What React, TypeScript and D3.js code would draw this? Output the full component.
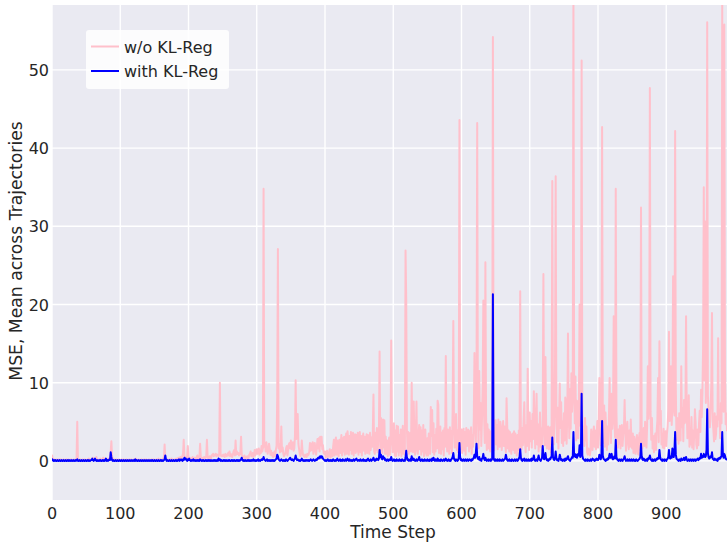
import React from "react";
import * as d3 from "d3";

// ---- data: MSE per time step (w/o KL-Reg) ----
const pink000 = [
  0.8,0.3,0.2,0.1,0.2,0.1,0.1,0.2,0.1,0.1, 0.2,0.1,0.1,0.2,0.1,0.1,0.1,0.2,0.1,0.1,
  0.1,0.2,0.1,0.1,0.2,0.1,0.1,0.1,0.2,0.1, 0.1,0.1,0.2,0.1,0.1,0.2,0.3,5.0,0.2,0.1,
  0.1,0.2,0.1,0.1,0.1,0.2,0.1,0.1,0.2,0.1, 0.1,0.1,0.2,0.1,0.3,0.1,0.1,0.2,0.1,0.1,
  0.4,0.2,0.1,0.1,0.3,0.5,0.2,0.1,0.1,0.2, 0.1,0.3,0.1,0.1,0.2,0.4,0.2,0.1,0.3,0.2,
  0.1,0.2,0.3,0.1,0.2,0.4,1.2,2.5,0.6,0.2, 0.1,0.2,0.1,0.1,0.2,0.1,0.1,0.1,0.2,0.1,
  0.1,0.1,0.2,0.1,0.1,0.2,0.1,0.1,0.1,0.2, 0.1,0.1,0.1,0.2,0.1,0.1,0.2,0.1,0.1,0.1,
  0.2,0.1,0.1,0.3,0.1,0.1,0.1,0.2,0.1,0.1, 0.1,0.2,0.1,0.1,0.1,0.2,0.1,0.1,0.2,0.1,
  0.1,0.1,0.2,0.1,0.1,0.1,0.2,0.1,0.1,0.2, 0.1,0.1,0.1,0.2,0.1,0.1,0.3,0.1,0.1,0.2,
  0.1,0.1,0.2,0.3,0.5,2.1,0.4,0.2,0.1,0.2, 0.1,0.1,0.2,0.1,0.1,0.3,0.1,0.2,0.1,0.1,
  0.2,0.1,0.3,0.1,0.2,0.4,0.2,0.3,0.5,0.3, 0.4,0.6,0.9,2.7,0.6,0.4,0.5,0.3,0.6,1.9,
];
const pink200 = [
  0.5,0.3,0.4,0.2,0.3,0.2,0.5,0.3,0.2,0.4, 0.3,0.2,0.5,0.7,0.3,0.2,0.4,2.2,0.5,0.3,
  0.2,0.4,0.3,0.5,0.3,0.4,0.6,2.7,0.5,0.3, 0.4,0.6,0.5,0.3,0.7,0.8,0.9,0.6,0.8,0.7,
  0.9,0.6,0.8,0.7,0.6,0.9,10.0,0.8,0.6,0.7, 0.6,0.8,0.7,0.5,0.9,0.7,0.6,0.8,1.0,0.7,
  1.2,0.6,0.9,0.7,0.5,0.8,1.2,1.4,0.7,2.6, 0.8,1.2,0.9,1.0,0.7,0.8,1.1,3.1,0.8,0.6,
  0.5,0.4,0.7,0.3,0.5,0.4,0.6,0.3,0.4,0.8, 0.9,1.2,0.6,0.7,1.0,0.5,0.8,1.4,0.7,1.3,
  1.5,0.9,1.1,1.6,0.8,1.3,1.0,1.9,1.2,1.6, 34.8,1.8,2.3,1.2,2.4,1.6,0.9,1.4,2.2,1.5,
  0.8,1.3,0.7,1.0,0.5,0.8,1.2,0.6,1.4,1.9, 8.2,27.1,1.6,2.2,1.1,1.8,4.4,1.2,1.7,0.9,
  0.6,0.8,1.0,1.6,1.9,0.7,1.4,2.1,2.3,1.6, 2.6,1.5,1.8,2.4,1.3,1.6,3.2,10.3,2.8,4.2,
  6.0,2.2,1.5,0.9,0.6,1.0,2.6,1.3,0.7,0.6, 0.5,0.8,0.6,0.5,0.9,0.7,0.8,1.2,2.3,1.3,
  2.2,1.4,2.4,0.9,1.6,2.3,1.3,0.8,1.8,2.8, 1.6,2.9,1.2,3.1,2.0,3.1,1.5,2.0,1.0,0.9,
];
const pink400 = [
  1.2,0.4,0.9,1.3,0.5,0.6,1.1,1.5,0.4,0.8, 1.4,0.6,1.9,2.7,0.7,2.4,3.0,0.8,2.6,1.1,
  0.6,2.7,1.0,2.2,3.3,0.7,2.9,1.2,3.1,0.8, 2.4,3.5,0.9,3.8,2.7,0.8,3.2,1.4,3.7,0.9,
  2.8,3.6,0.7,2.5,3.4,1.0,3.3,1.2,3.6,0.8, 2.6,3.7,1.1,3.2,0.7,2.9,3.5,1.3,3.1,0.9,
  2.7,3.4,1.0,3.3,1.5,0.9,3.6,1.4,3.0,1.8, 3.5,8.5,1.2,0.9,3.6,1.4,4.2,1.1,2.5,4.0,
  14.0,1.4,5.5,4.1,1.0,5.3,1.7,5.2,0.9,3.1, 0.9,2.6,0.6,2.2,3.0,0.8,2.5,15.4,4.8,1.1,
  3.6,4.8,0.7,3.9,0.6,4.5,1.2,4.4,0.7,3.3, 1.1,4.0,0.6,2.8,4.5,0.9,3.2,0.8,26.9,20.6,
  4.1,1.3,3.7,0.9,2.8,3.6,1.2,10.0,3.4,1.1, 7.6,3.0,0.8,2.6,7.6,1.4,0.9,3.2,4.6,1.5,
  4.3,0.8,3.9,1.2,4.6,0.6,3.0,4.0,1.0,0.7, 2.9,0.7,3.5,1.4,0.9,6.9,3.2,6.5,1.1,4.8,
  0.8,3.3,1.2,4.1,1.6,7.7,7.2,1.0,2.3,4.4, 0.9,3.6,1.5,3.9,0.7,4.2,1.8,13.4,3.6,1.2,
  4.0,3.1,0.9,4.3,1.6,3.8,1.0,6.5,17.9,4.4, 1.7,3.5,6.0,1.4,3.9,1.1,4.6,43.6,3.8,1.5,
];
const pink600 = [
  4.0,1.0,3.4,4.1,1.3,3.7,0.8,4.2,1.9,3.5, 4.0,1.2,3.8,1.6,4.3,0.9,3.3,1.8,5.4,13.8,
  4.5,2.2,8.8,43.2,6.3,1.6,11.5,4.0,7.4,1.9, 5.2,9.4,20.5,6.1,2.3,25.4,5.8,1.4,4.7,1.6,
  4.0,2.1,1.2,3.8,1.8,4.5,54.2,3.7,1.4,5.0, 5.2,2.1,4.6,1.5,5.3,2.4,1.8,5.0,4.1,1.4,
  3.6,5.1,1.9,4.4,2.2,1.1,8.0,4.5,1.6,3.9, 1.2,3.7,1.5,0.9,3.4,3.5,1.4,3.8,1.0,3.5,
  1.8,0.7,3.3,1.4,3.9,0.9,21.7,3.6,1.5,4.2, 2.0,5.3,7.5,2.4,1.1,4.6,1.9,11.8,3.2,1.4,
  6.2,2.5,5.1,1.7,6.0,2.8,8.9,4.4,1.6,5.2, 8.6,2.1,4.7,1.2,3.5,6.2,1.8,4.1,1.3,5.6,
  23.9,4.2,2.0,13.3,4.8,1.6,3.9,4.4,1.5,3.7, 4.3,1.1,3.8,35.8,5.4,2.1,4.6,12.4,36.4,5.8,
  2.4,6.8,1.6,5.9,9.9,4.2,7.5,2.3,5.0,1.9, 6.1,2.6,8.1,7.4,2.2,5.8,16.3,6.7,2.9,9.2,
  4.1,11.2,6.3,8.5,58.5,9.6,4.8,10.8,2.6,7.7, 6.9,2.9,7.2,20.0,4.5,8.3,51.2,6.4,2.7,4.4,
  1.9,5.5,2.6,4.4,1.1,0.8,1.6,0.9,0.7,1.3, 4.0,2.1,1.4,3.7,4.4,1.8,3.9,1.5,3.4,5.1,
];
const pink800 = [
  1.7,4.6,10.6,5.2,2.0,6.8,42.7,6.1,2.3,7.1, 1.8,6.2,3.6,1.4,4.4,2.1,5.6,10.6,4.9,2.3,
  8.6,4.1,6.5,18.5,5.3,3.0,34.8,6.2,2.5,1.7, 4.0,2.2,4.5,1.6,3.8,4.6,1.9,3.4,4.2,7.8,
  3.6,1.3,4.1,5.0,2.3,1.5,3.9,1.8,5.3,2.4, 1.6,3.5,1.0,3.1,1.4,0.9,2.7,3.3,1.2,0.8,
  2.9,3.6,1.4,32.4,3.8,1.6,3.5,4.2,1.9,5.0, 2.4,1.7,4.6,12.1,5.4,8.9,47.7,6.3,2.7,5.5,
  1.6,3.2,1.1,2.8,3.5,1.4,3.9,5.2,10.6,2.4, 15.3,4.7,6.4,2.1,3.5,1.7,4.1,1.6,3.3,3.8,
  1.9,3.5,4.4,6.6,16.5,5.1,8.2,12.1,4.6,7.3, 23.6,6.9,5.8,42.2,9.3,2.7,5.5,4.4,2.2,6.1,
  5.0,2.6,12.1,4.3,6.8,2.5,7.8,4.8,5.2,18.5, 6.3,2.9,3.5,8.4,1.8,4.2,2.1,5.6,1.7,3.9,
  1.5,3.4,6.6,4.9,2.1,1.6,4.0,2.0,4.8,6.4, 3.7,9.1,5.6,8.7,14.6,35.0,10.3,30.6,7.4,12.8,
  56.1,8.4,6.2,5.1,4.3,6.9,9.7,18.9,5.2,4.0, 2.5,6.1,2.8,3.5,5.7,4.4,15.7,5.3,6.6,2.9,
  7.4,4.8,58.5,9.2,6.3,55.8,12.0,4.7,6.1,3.8,
];

// ---- data: MSE per time step (with KL-Reg) ----
const blue000 = [
  0.3,0.1,0.0,0.1,0.0,0.1,0.0,0.0,0.1,0.0, 0.0,0.1,0.0,0.0,0.1,0.0,0.0,0.1,0.0,0.0,
  0.1,0.0,0.0,0.1,0.0,0.1,0.0,0.0,0.1,0.0, 0.0,0.1,0.0,0.0,0.1,0.0,0.1,0.2,0.0,0.0,
  0.1,0.0,0.0,0.1,0.0,0.0,0.1,0.0,0.0,0.1, 0.0,0.0,0.1,0.0,0.1,0.0,0.0,0.1,0.1,0.3,
  0.1,0.0,0.1,0.3,0.1,0.0,0.1,0.0,0.0,0.1, 0.0,0.1,0.0,0.0,0.1,0.0,0.1,0.0,0.1,0.3,
  0.0,0.1,0.0,0.1,0.2,0.1,1.1,0.5,0.1,0.0, 0.1,0.0,0.0,0.1,0.0,0.0,0.1,0.0,0.0,0.1,
  0.0,0.0,0.1,0.0,0.0,0.1,0.0,0.0,0.1,0.0, 0.0,0.1,0.0,0.0,0.1,0.0,0.0,0.1,0.0,0.0,
  0.1,0.0,0.2,0.0,0.1,0.0,0.0,0.1,0.0,0.0, 0.1,0.0,0.0,0.1,0.0,0.0,0.1,0.0,0.0,0.1,
  0.0,0.0,0.1,0.0,0.0,0.1,0.0,0.1,0.0,0.0, 0.1,0.0,0.0,0.1,0.0,0.0,0.1,0.0,0.0,0.1,
  0.0,0.1,0.0,0.0,0.1,0.2,0.7,0.2,0.0,0.1, 0.0,0.0,0.1,0.0,0.0,0.1,0.0,0.0,0.1,0.0,
  0.0,0.1,0.0,0.1,0.0,0.1,0.2,0.0,0.1,0.2, 0.1,0.0,0.2,0.1,0.4,0.2,0.3,0.1,0.0,0.2,
];
const blue200 = [
  0.1,0.3,0.1,0.0,0.1,0.0,0.1,0.2,0.0,0.1, 0.0,0.1,0.0,0.1,0.0,0.1,0.0,0.2,0.1,0.0,
  0.1,0.0,0.1,0.0,0.0,0.1,0.0,0.1,0.0,0.1, 0.0,0.1,0.0,0.1,0.0,0.0,0.1,0.0,0.1,0.0,
  0.1,0.0,0.1,0.0,0.3,0.1,0.2,0.0,0.1,0.0, 0.0,0.1,0.0,0.1,0.0,0.1,0.0,0.0,0.1,0.0,
  0.1,0.0,0.0,0.1,0.0,0.1,0.0,0.1,0.0,0.0, 0.1,0.0,0.1,0.0,0.1,0.0,0.1,0.2,0.4,0.1,
  0.0,0.1,0.0,0.1,0.0,0.0,0.1,0.0,0.1,0.0, 0.1,0.0,0.1,0.0,0.1,0.2,0.0,0.1,0.0,0.1,
  0.0,0.1,0.2,0.0,0.1,0.0,0.1,0.2,0.1,0.2, 0.5,0.2,0.1,0.0,0.1,0.2,0.0,0.1,0.0,0.1,
  0.0,0.1,0.0,0.1,0.0,0.1,0.0,0.1,0.2,0.3, 0.8,0.6,0.2,0.1,0.0,0.1,0.2,0.1,0.0,0.1,
  0.0,0.1,0.0,0.2,0.1,0.0,0.1,0.2,0.3,0.4, 0.2,0.1,0.2,0.1,0.0,0.2,0.3,0.7,0.3,0.1,
  0.2,0.1,0.0,0.1,0.0,0.1,0.3,0.1,0.0,0.1, 0.0,0.1,0.0,0.1,0.1,0.0,0.1,0.0,0.1,0.2,
  0.1,0.0,0.1,0.2,0.1,0.0,0.1,0.2,0.1,0.3, 0.4,0.3,0.5,0.6,0.4,0.6,0.5,0.3,0.2,0.1,
];
const blue400 = [
  0.0,0.1,0.0,0.1,0.2,0.0,0.1,0.0,0.1,0.0, 0.1,0.0,0.2,0.1,0.0,0.1,0.0,0.1,0.3,0.1,
  0.0,0.1,0.2,0.0,0.1,0.0,0.2,0.1,0.0,0.1, 0.2,0.0,0.1,0.3,0.1,0.0,0.2,0.1,0.0,0.1,
  0.0,0.1,0.2,0.0,0.1,0.2,0.3,0.1,0.0,0.1, 0.1,0.0,0.2,0.1,0.0,0.1,0.2,0.0,0.1,0.0,
  0.1,0.0,0.2,0.3,0.1,0.0,0.1,0.2,0.0,0.1, 0.2,0.4,0.1,0.0,0.2,0.1,0.3,0.2,0.1,0.3,
  1.4,0.5,0.8,0.3,0.2,0.6,0.3,0.4,0.1,0.2, 0.0,0.1,0.2,0.0,0.1,0.2,0.1,0.5,0.2,0.0,
  0.1,0.2,0.0,0.1,0.0,0.2,0.1,0.0,0.1,0.2, 0.0,0.1,0.0,0.2,0.1,0.0,0.1,0.0,0.4,1.3,
  0.4,0.1,0.2,0.0,0.1,0.2,0.0,0.6,0.2,0.1, 0.3,0.1,0.0,0.1,0.2,0.0,0.1,0.2,0.5,0.1,
  0.0,0.1,0.2,0.0,0.1,0.0,0.2,0.1,0.0,0.1, 0.2,0.0,0.1,0.0,0.2,0.1,0.0,0.3,0.1,0.4,
  0.1,0.0,0.2,0.1,0.0,0.3,0.2,0.0,0.1,0.0, 0.2,0.1,0.0,0.1,0.2,0.0,0.1,0.3,0.1,0.0,
  0.1,0.2,0.0,0.1,0.0,0.2,0.3,0.5,1.0,0.3, 0.1,0.0,0.2,0.1,0.0,0.1,0.4,2.3,0.5,0.1,
];
const blue600 = [
  0.2,0.0,0.1,0.2,0.0,0.1,0.2,0.0,0.1,0.2, 0.0,0.1,0.2,0.1,0.0,0.2,0.1,0.3,0.4,0.8,
  0.4,1.0,2.2,0.6,0.3,0.2,0.5,0.1,0.2,0.0, 0.3,0.4,0.9,0.3,0.1,0.4,0.2,0.0,0.1,0.2,
  0.0,0.1,0.2,0.0,0.1,0.3,21.3,0.4,0.1,0.0, 0.2,0.1,0.0,0.2,0.1,0.0,0.2,0.1,0.0,0.1,
  0.2,0.0,0.1,0.2,0.3,0.8,0.4,0.1,0.0,0.1, 0.2,0.0,0.1,0.0,0.2,0.1,0.0,0.1,0.2,0.0,
  0.1,0.2,0.0,0.1,0.3,0.5,1.5,0.4,0.1,0.0, 0.2,0.1,0.3,0.0,0.1,0.2,0.0,0.1,0.2,0.0,
  0.1,0.2,0.0,0.3,0.1,0.2,0.7,0.2,0.0,0.1, 0.2,0.0,0.3,0.7,0.2,0.1,0.0,0.2,0.4,1.9,
  0.6,0.2,0.4,1.0,0.3,0.1,0.2,0.0,0.1,0.3, 0.2,0.4,0.6,3.0,0.5,0.2,0.1,0.4,1.2,0.3,
  0.1,0.2,0.0,0.3,0.8,0.4,0.1,0.2,0.0,0.1, 0.2,0.0,0.3,0.1,0.2,0.4,0.6,0.2,0.1,0.0,
  0.2,0.3,0.5,0.4,3.7,0.6,0.9,0.5,0.8,0.4, 0.6,0.9,0.7,2.0,0.5,1.0,8.6,0.7,0.3,0.2,
  0.1,0.0,0.2,0.1,0.0,0.2,0.1,0.0,0.1,0.2, 0.0,0.1,0.3,0.2,0.1,0.0,0.2,0.1,0.3,0.2,
];
const blue800 = [
  0.1,0.3,0.8,0.4,0.2,0.6,5.1,0.7,0.3,0.2, 0.1,0.0,0.2,0.1,0.3,0.2,0.5,0.9,0.4,0.6,
  0.9,0.3,0.2,0.4,0.6,0.3,2.7,0.5,0.2,0.1, 0.0,0.2,0.1,0.0,0.2,0.1,0.0,0.2,0.3,0.6,
  0.2,0.0,0.1,0.2,0.0,0.1,0.2,0.0,0.1,0.2, 0.0,0.1,0.2,0.0,0.1,0.0,0.2,0.1,0.0,0.1,
  0.2,0.3,0.5,2.2,0.6,0.2,0.1,0.3,0.2,0.0, 0.1,0.2,0.0,0.3,0.2,0.4,0.7,0.3,0.1,0.0,
  0.2,0.0,0.1,0.2,0.0,0.1,0.3,0.2,0.4,0.3, 1.4,0.5,0.2,0.1,0.0,0.2,0.1,0.0,0.2,0.1,
  0.0,0.2,0.3,0.5,1.4,0.4,0.3,0.6,0.4,1.6, 0.7,0.5,1.2,3.7,0.8,0.3,0.2,0.1,0.0,0.2,
  0.1,0.0,0.3,0.2,0.1,0.2,0.4,0.1,0.2,0.5, 0.2,0.0,0.1,0.2,0.0,0.1,0.2,0.0,0.1,0.2,
  0.0,0.1,0.2,0.0,0.1,0.2,0.3,0.1,0.2,0.4, 0.3,0.9,0.4,0.6,0.5,0.9,0.7,0.5,0.6,1.4,
  6.6,1.0,0.5,0.3,0.4,0.6,0.5,1.1,0.3,0.2, 0.1,0.3,0.2,0.1,0.2,0.0,0.3,0.2,0.4,0.3,
  0.5,0.6,3.7,0.8,0.4,0.9,0.7,0.3,0.2,0.1,
];

const withoutKL = [...pink000, ...pink200, ...pink400, ...pink600, ...pink800];
const withKL = [...blue000, ...blue200, ...blue400, ...blue600, ...blue800];

const xTicks = [0, 100, 200, 300, 400, 500, 600, 700, 800, 900];
const yTicks = [0, 10, 20, 30, 40, 50];
const seriesNames = ["w/o KL-Reg", "with KL-Reg"];
const seriesColors = ["#ffc0cb", "#0000ff"];

const W = 727;
const H = 542;
const M = { left: 52, right: 727, top: 5, bottom: 500 };
const FONT = "'DejaVu Sans', sans-serif";
const TXT = "#262626";

export default function App() {
  const x = d3.scaleLinear().domain([0, 989]).range([M.left, M.right]);
  const y = d3.scaleLinear().domain([-5, 58.3]).range([M.bottom, M.top]);
  const line = d3
    .line<number>()
    .x((_, i) => x(i))
    .y((d) => y(d));

  const series = [withoutKL, withKL];

  return (
    <svg
      width={W}
      height={H}
      style={{ position: "fixed", left: 0, top: 0, background: "#ffffff" }}
      fontFamily={FONT}
    >
      <defs>
        <clipPath id="plotclip">
          <rect x={M.left} y={M.top} width={M.right - M.left} height={M.bottom - M.top} />
        </clipPath>
      </defs>
      <rect
        x={M.left}
        y={M.top}
        width={M.right - M.left}
        height={M.bottom - M.top}
        fill="#eaeaf2"
      />
      {xTicks.map((t) => (
        <line
          key={"gx" + t}
          x1={x(t)}
          x2={x(t)}
          y1={M.top}
          y2={M.bottom}
          stroke="#ffffff"
          strokeWidth={1.4}
        />
      ))}
      {yTicks.map((t) => (
        <line
          key={"gy" + t}
          x1={M.left}
          x2={M.right}
          y1={y(t)}
          y2={y(t)}
          stroke="#ffffff"
          strokeWidth={1.4}
        />
      ))}
      <g clipPath="url(#plotclip)">
        {series.map((s, i) => (
          <path
            key={"s" + i}
            d={line(s) || ""}
            fill="none"
            stroke={seriesColors[i]}
            strokeWidth={2}
            strokeLinejoin="round"
          />
        ))}
      </g>
      {xTicks.map((t) => (
        <text
          key={"tx" + t}
          x={x(t)}
          y={518.5}
          textAnchor="middle"
          fontSize={16}
          fill={TXT}
        >
          {t}
        </text>
      ))}
      {yTicks.map((t) => (
        <text
          key={"ty" + t}
          x={49}
          y={y(t) + 6}
          textAnchor="end"
          fontSize={16}
          fill={TXT}
        >
          {t}
        </text>
      ))}
      <text x={393} y={538.3} textAnchor="middle" fontSize={17} fill={TXT}>
        Time Step
      </text>
      <text
        transform={`translate(22, 251) rotate(-90)`}
        textAnchor="middle"
        fontSize={17.2}
        fill={TXT}
      >
        MSE, Mean across Trajectories
      </text>
      <g>
        <rect x={86} y={30} width={143} height={59} fill="#ffffff" fillOpacity={0.85} rx={3} />
        {seriesNames.map((n, i) => (
          <g key={"lg" + i}>
            <line
              x1={91}
              x2={119}
              y1={46.5 + i * 24.5}
              y2={46.5 + i * 24.5}
              stroke={seriesColors[i]}
              strokeWidth={2}
            />
            <text x={124} y={52.5 + i * 24.5} fontSize={16} fill={TXT}>
              {n}
            </text>
          </g>
        ))}
      </g>
    </svg>
  );
}
